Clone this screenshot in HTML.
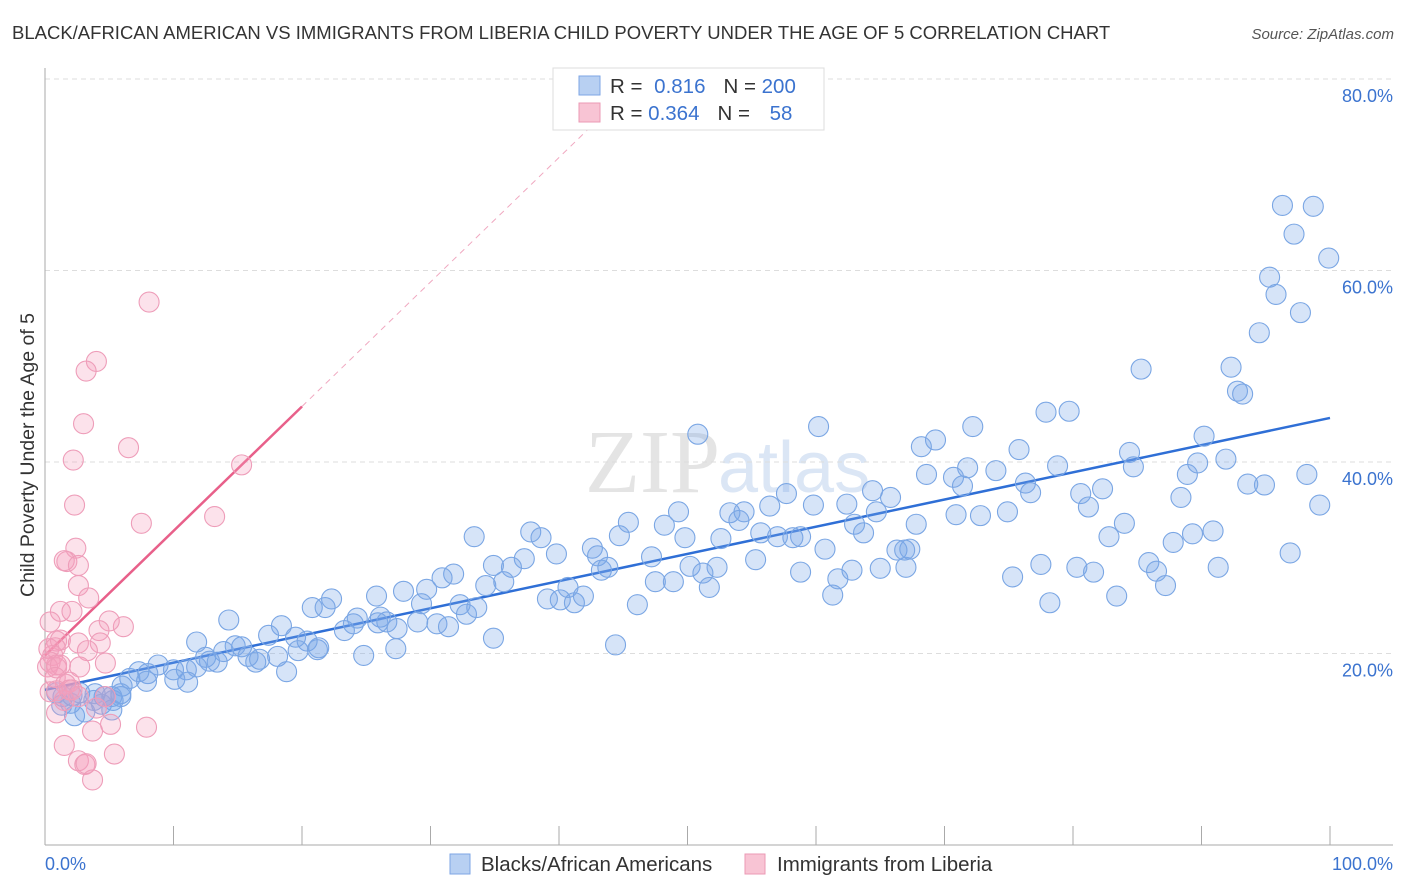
<!DOCTYPE html>
<html><head><meta charset="utf-8"><style>
body{margin:0;background:#fff;font-family:"Liberation Sans",sans-serif;}
#wrap{position:relative;width:1406px;height:892px;overflow:hidden;}
</style></head><body>
<div id="wrap">
<svg id="svg" width="1406" height="892" xmlns="http://www.w3.org/2000/svg">
<text x="12" y="39" font-size="18.5" fill="#333">BLACK/AFRICAN AMERICAN VS IMMIGRANTS FROM LIBERIA CHILD POVERTY UNDER THE AGE OF 5 CORRELATION CHART</text>
<text x="1394" y="39" font-size="15" fill="#555" font-style="italic" text-anchor="end">Source: ZipAtlas.com</text>
<text transform="translate(34,455) rotate(-90)" font-size="19.5" fill="#333" text-anchor="middle">Child Poverty Under the Age of 5</text>
<text x="720" y="492" font-size="90" fill="#e4e4e4" font-family="Liberation Serif,serif" text-anchor="end">ZIP</text>
<text x="718" y="492" font-size="72" fill="#dbe6f5">atlas</text>
<g id="grid"></g><g id="axes"></g><g id="trend"></g><g id="pts"></g>
<g>
<rect x="553" y="68" width="271" height="62" fill="#fff" stroke="#ddd"/>
<rect x="579" y="76" width="21" height="19" fill="#b8d0f2" stroke="#7ea6e4"/>
<rect x="579" y="103" width="21" height="19" fill="#f8c4d4" stroke="#eb9ab4"/>
<text x="610" y="93" font-size="20.5" fill="#333">R = <tspan fill="#3b73cf" dx="6">0.816</tspan><tspan dx="18" fill="#333">N = </tspan><tspan fill="#3b73cf">200</tspan></text>
<text x="610" y="120" font-size="20.5" fill="#333">R = <tspan fill="#3b73cf">0.364</tspan><tspan dx="18" fill="#333">N = </tspan><tspan fill="#3b73cf" dx="14">58</tspan></text>
</g>
<g>
<rect x="450" y="854" width="20" height="20" fill="#b8d0f2" stroke="#7ea6e4"/>
<text x="481" y="871" font-size="20.5" fill="#333">Blacks/African Americans</text>
<rect x="745" y="854" width="20" height="20" fill="#f8c4d4" stroke="#eb9ab4"/>
<text x="777" y="871" font-size="20.5" fill="#333">Immigrants from Liberia</text>
</g>
</svg>
</div>
<script>
const yTicks=[20,40,60,80];
const yTickLabels=["20.0%","40.0%","60.0%","80.0%"];
const xTickLabels=["0.0%","100.0%"];
const blueX=[96.3,98.7,97.2,99.9,95.3,95.8,97.7,94.5,92.3,85.3,92.8,93.2,77.9,79.7,60.2,50.8,72.2,69.3,68.2,75.8,84.4,90.2,91.9,71.8,74.0,78.8,84.7,68.6,70.7,88.9,89.7,98.2,93.6,94.9,76.3,71.4,76.7,80.6,82.3,64.4,65.8,62.4,57.7,59.8,56.4,54.4,53.3,54.0,49.3,45.4,48.2,70.9,72.8,74.9,81.2,84.0,88.4,99.2,82.8,89.3,90.9,67.8,63.0,63.7,64.7,55.7,57.0,58.8,58.2,60.7,66.3,67.3,52.6,49.8,42.6,44.7,39.8,37.8,38.6,33.4,37.3,36.3,34.9,43.0,43.3,43.8,47.2,55.3,77.5,80.3,81.6,85.9,86.5,87.8,91.3,96.9,75.3,87.2,83.4,78.2,61.3,61.7,62.8,65.0,67.0,66.9,58.8,50.2,52.3,51.2,51.7,47.5,48.9,46.1,40.1,39.1,41.2,40.7,41.9,35.7,34.3,31.8,30.9,29.7,27.9,29.3,30.5,31.4,32.3,32.8,33.6,34.9,25.8,24.3,22.3,20.8,21.8,18.4,17.4,19.5,20.4,23.3,24.0,26.6,27.4,26.1,29.0,25.9,21.2,19.7,21.3,24.8,27.3,44.4,14.3,11.8,12.5,13.4,15.3,16.4,14.8,15.8,13.9,12.8,18.1,16.7,18.8,8.8,10.0,11.0,11.8,11.1,10.1,8.0,6.6,7.3,7.9,6.0,5.9,5.2,4.6,3.9,2.7,2.1,1.4,0.9,1.3,2.0,3.8,4.4,5.2,2.3,3.1,5.3,5.9];
const blueY=[66.8,66.7,63.8,61.3,59.3,57.5,55.6,53.5,49.9,49.7,47.4,47.1,45.2,45.3,43.7,42.9,43.7,42.3,41.6,41.3,41.0,42.7,40.3,39.4,39.1,39.6,39.5,38.7,38.4,38.7,39.9,38.7,37.7,37.6,37.8,37.5,36.8,36.7,37.2,37.0,36.3,35.6,36.7,35.5,35.4,34.8,34.7,33.9,34.8,33.7,33.4,34.5,34.4,34.8,35.3,33.6,36.3,35.5,32.2,32.5,32.8,33.5,33.5,32.6,34.8,32.6,32.2,32.2,32.1,30.9,30.8,30.9,32.0,32.1,31.0,32.3,30.4,32.7,32.1,32.2,29.9,29.0,29.2,30.2,28.7,29.0,30.1,29.8,29.3,29.0,28.5,29.5,28.6,31.6,29.0,30.5,28.0,27.1,26.0,25.3,26.1,27.8,28.7,28.9,29.0,30.8,28.5,29.1,29.0,28.4,26.9,27.5,27.5,25.1,25.6,25.7,25.3,26.9,26.0,27.5,27.1,28.3,27.9,26.7,26.5,25.2,23.1,22.8,25.1,24.1,24.8,21.6,26.0,23.7,25.7,24.8,24.8,22.9,21.9,21.7,21.3,22.4,23.1,23.3,22.6,23.8,23.3,23.2,20.4,20.3,20.6,19.8,20.5,20.9,23.5,21.2,19.6,19.1,20.7,19.1,20.8,19.7,20.2,19.2,19.7,19.4,18.1,18.8,18.3,18.3,18.6,17.0,17.3,17.9,17.4,18.1,17.1,16.6,15.8,15.5,15.5,15.8,15.9,15.6,15.5,15.9,14.6,14.8,15.1,14.7,14.1,13.5,13.9,15.1,15.5];
const pinkX=[8.1,4.0,3.2,3.0,2.2,6.5,15.3,2.3,7.5,13.2,2.4,1.7,1.5,2.6,2.6,3.4,1.2,2.1,0.4,6.1,5.0,4.2,0.9,1.2,2.6,4.3,0.3,0.8,0.6,3.3,0.4,0.9,0.2,0.9,1.2,4.7,2.7,0.8,1.9,1.6,0.4,0.9,2.1,2.6,1.5,4.7,0.9,4.0,5.1,3.7,1.5,7.9,2.6,3.1,5.4,3.7,3.2,1.9];
const pinkY=[56.7,50.5,49.5,44.0,40.2,41.5,39.7,35.5,33.6,34.3,31.0,29.6,29.7,29.2,27.1,25.8,24.4,24.4,23.3,22.8,23.4,22.4,21.3,21.4,21.1,21.1,20.5,20.6,19.8,20.3,19.1,18.8,18.6,18.5,18.8,19.0,18.6,17.5,17.0,16.8,16.0,16.1,16.2,15.5,15.1,15.5,13.8,14.3,12.6,11.9,10.4,12.3,8.8,8.4,9.5,6.8,8.5,16.2];
const blueTrend=[16.2,44.6];   // y at x=0, x=100
const pinkTrend=[19.8,45.8];   // y at x=0, x=20
const NS="http://www.w3.org/2000/svg";
const X=v=>45+v*12.85, Y=v=>845-v*9.575;
function mk(t,a,p){const e=document.createElementNS(NS,t);for(const k in a)e.setAttribute(k,a[k]);p.appendChild(e);return e;}
const grid=document.getElementById('grid'),axes=document.getElementById('axes'),tr=document.getElementById('trend'),pts=document.getElementById('pts');
yTicks.forEach((t,i)=>{
 const l=mk('line',{x1:45,x2:1393,y1:Y(t),y2:Y(t),stroke:'#ddd','stroke-dasharray':'5,4'},grid);
 
 
 const tx=mk('text',{x:1393,y:Y(t)+23,'font-size':18,fill:'#3b73cf','text-anchor':'end'},axes);
 tx.textContent=yTickLabels[i];
 
 
});
mk('line',{x1:45,x2:45,y1:68,y2:845,stroke:'#aaa'},axes);
mk('line',{x1:45,x2:1393,y1:845,y2:845,stroke:'#aaa'},axes);
for(let i=0;i<=10;i++){const t=mk('line',{x1:X(i*10),x2:X(i*10),y1:826,y2:845,stroke:'#aaa'},axes);
 
 }
const xl0=mk('text',{x:45,y:870,'font-size':18,fill:'#3b73cf'},axes);xl0.textContent=xTickLabels[0];


const xl1=mk('text',{x:1393,y:870,'font-size':18,fill:'#3b73cf','text-anchor':'end'},axes);xl1.textContent=xTickLabels[1];


blueX.forEach((x,i)=>{const c=mk('circle',{cx:X(x),cy:Y(blueY[i]),r:10,fill:'rgba(120,165,232,0.3)',stroke:'#7aa6e4','stroke-width':1.1},pts);
 
 });
pinkX.forEach((x,i)=>{const c=mk('circle',{cx:X(x),cy:Y(pinkY[i]),r:10,fill:'rgba(244,160,190,0.3)',stroke:'#ee9db9','stroke-width':1.1},pts);
 
 });
const ps=(pinkTrend[1]-pinkTrend[0])/20;
const dEnd=(80-pinkTrend[0]-4)/ps;
const pd=mk('line',{x1:X(20),y1:Y(pinkTrend[1]),x2:X(dEnd),y2:Y(pinkTrend[0]+ps*dEnd),stroke:'#f0a8c0','stroke-dasharray':'6,5','stroke-width':1},tr);


const pl=mk('line',{x1:X(0),y1:Y(pinkTrend[0]),x2:X(20),y2:Y(pinkTrend[1]),stroke:'#e8608a','stroke-width':2.5},tr);


const bl=mk('line',{x1:X(0),y1:Y(blueTrend[0]),x2:X(100),y2:Y(blueTrend[1]),stroke:'#2f6fd6','stroke-width':2.5},tr);


</script>
</body></html>
